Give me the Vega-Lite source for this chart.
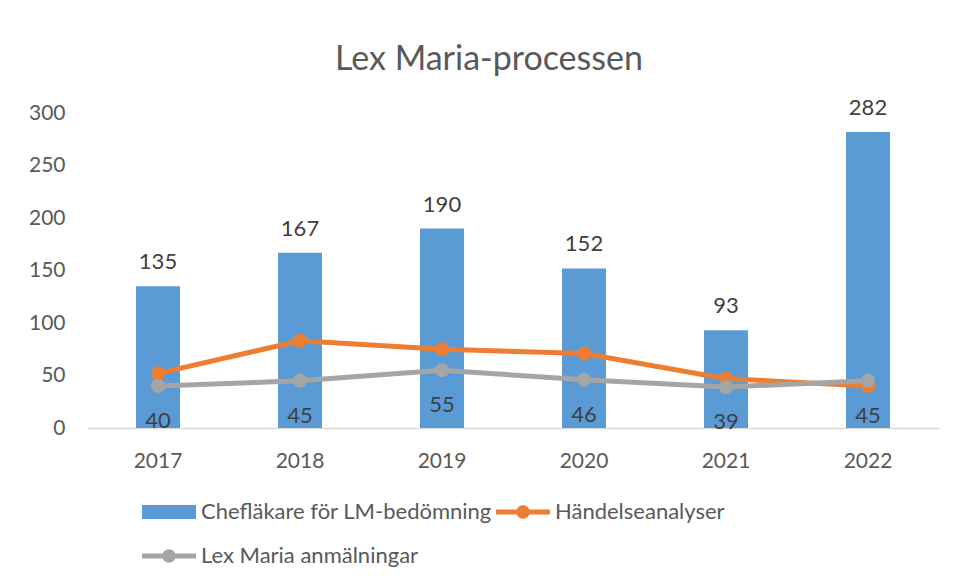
{
  "$schema": "https://vega.github.io/schema/vega-lite/v6.json",
  "autosize": "none",
  "width": 852,
  "height": 315,
  "padding": {"left": 87, "top": 113, "right": 19, "bottom": 155},
  "background": "white",
  "title": {
    "text": "Lex Maria-processen",
    "font": "Lato",
    "fontSize": 34,
    "fontWeight": "normal",
    "color": "#595959",
    "anchor": "middle",
    "dx": -24,
    "offset": 20
  },
  "data": {
    "values": [
      {"year": "2017", "series": "Chefläkare för LM-bedömning", "value": 135},
      {"year": "2018", "series": "Chefläkare för LM-bedömning", "value": 167},
      {"year": "2019", "series": "Chefläkare för LM-bedömning", "value": 190},
      {"year": "2020", "series": "Chefläkare för LM-bedömning", "value": 152},
      {"year": "2021", "series": "Chefläkare för LM-bedömning", "value": 93},
      {"year": "2022", "series": "Chefläkare för LM-bedömning", "value": 282},
      {"year": "2017", "series": "Händelseanalyser", "value": 52},
      {"year": "2018", "series": "Händelseanalyser", "value": 83},
      {"year": "2019", "series": "Händelseanalyser", "value": 75},
      {"year": "2020", "series": "Händelseanalyser", "value": 71},
      {"year": "2021", "series": "Händelseanalyser", "value": 47},
      {"year": "2022", "series": "Händelseanalyser", "value": 40},
      {"year": "2017", "series": "Lex Maria anmälningar", "value": 40},
      {"year": "2018", "series": "Lex Maria anmälningar", "value": 45},
      {"year": "2019", "series": "Lex Maria anmälningar", "value": 55},
      {"year": "2020", "series": "Lex Maria anmälningar", "value": 46},
      {"year": "2021", "series": "Lex Maria anmälningar", "value": 39},
      {"year": "2022", "series": "Lex Maria anmälningar", "value": 45}
    ]
  },
  "encoding": {
    "x": {
      "field": "year",
      "type": "ordinal",
      "scale": {"paddingInner": 0, "paddingOuter": 0},
      "axis": {
        "title": null,
        "labelAngle": 0,
        "labelFont": "Lato",
        "labelFontSize": 21,
        "labelColor": "#595959",
        "labelPadding": 22,
        "ticks": false,
        "domainColor": "#d9d9d9",
        "domainWidth": 1.5,
        "grid": false
      }
    },
    "y": {
      "field": "value",
      "type": "quantitative",
      "scale": {"domain": [0, 300], "nice": false},
      "axis": {
        "title": null,
        "values": [0, 50, 100, 150, 200, 250, 300],
        "labelFont": "Lato",
        "labelFontSize": 21,
        "labelColor": "#595959",
        "labelPadding": 22,
        "ticks": false,
        "domain": false,
        "grid": false
      }
    }
  },
  "layer": [
    {
      "transform": [{"filter": "datum.series === 'Chefläkare för LM-bedömning'"}],
      "mark": {"type": "bar", "size": 44},
      "encoding": {
        "color": {
          "field": "series",
          "type": "nominal",
          "scale": {
            "domain": ["Chefläkare för LM-bedömning", "Händelseanalyser", "Lex Maria anmälningar"],
            "range": ["#5B9BD5", "#ED7D31", "#A5A5A5"]
          },
          "legend": {
            "title": null,
            "orient": "none",
            "legendX": 55,
            "legendY": 372,
            "direction": "horizontal",
            "columns": 2,
            "columnPadding": 4,
            "rowPadding": 6,
            "symbolSize": 2916,
            "labelFont": "Lato",
            "labelFontSize": 22,
            "labelLimit": 400,
            "labelColor": "#595959",
            "labelOffset": 5,
            "encode": {
              "symbols": {
                "update": {
                  "shape": {"signal": "datum.value === 'Chefläkare för LM-bedömning' ? 'M-1,-0.26L1,-0.26L1,0.26L-1,0.26Z' : 'M-1,-0.09L1,-0.09L1,0.09L-1,0.09Z M0.25,0 A0.25,0.25 0 1,1 -0.25,0 A0.25,0.25 0 1,1 0.25,0Z'"},
                  "fill": {"scale": "color", "field": "value"},
                  "stroke": {"value": "transparent"},
                  "strokeWidth": {"value": 0},
                  "opacity": {"value": 1},
                  "fillOpacity": {"value": 1}
                }
              }
            }
          }
        }
      }
    },
    {
      "transform": [{"filter": "datum.series === 'Chefläkare för LM-bedömning'"}],
      "mark": {"type": "text", "dy": -24, "font": "Lato", "fontSize": 22, "color": "#404040"},
      "encoding": {"text": {"field": "value", "type": "quantitative"}}
    },
    {
      "transform": [{"filter": "datum.series === 'Händelseanalyser'"}],
      "mark": {"type": "line", "strokeWidth": 5, "point": {"size": 200, "filled": true, "opacity": 1}},
      "encoding": {"color": {"field": "series", "type": "nominal"}}
    },
    {
      "transform": [{"filter": "datum.series === 'Lex Maria anmälningar'"}],
      "mark": {"type": "line", "strokeWidth": 5, "point": {"size": 200, "filled": true, "opacity": 1}},
      "encoding": {"color": {"field": "series", "type": "nominal"}}
    },
    {
      "transform": [{"filter": "datum.series === 'Lex Maria anmälningar'"}],
      "mark": {"type": "text", "dy": 35, "font": "Lato", "fontSize": 22, "color": "#404040"},
      "encoding": {"text": {"field": "value", "type": "quantitative"}}
    }
  ],
  "config": {"view": {"stroke": null}}
}
